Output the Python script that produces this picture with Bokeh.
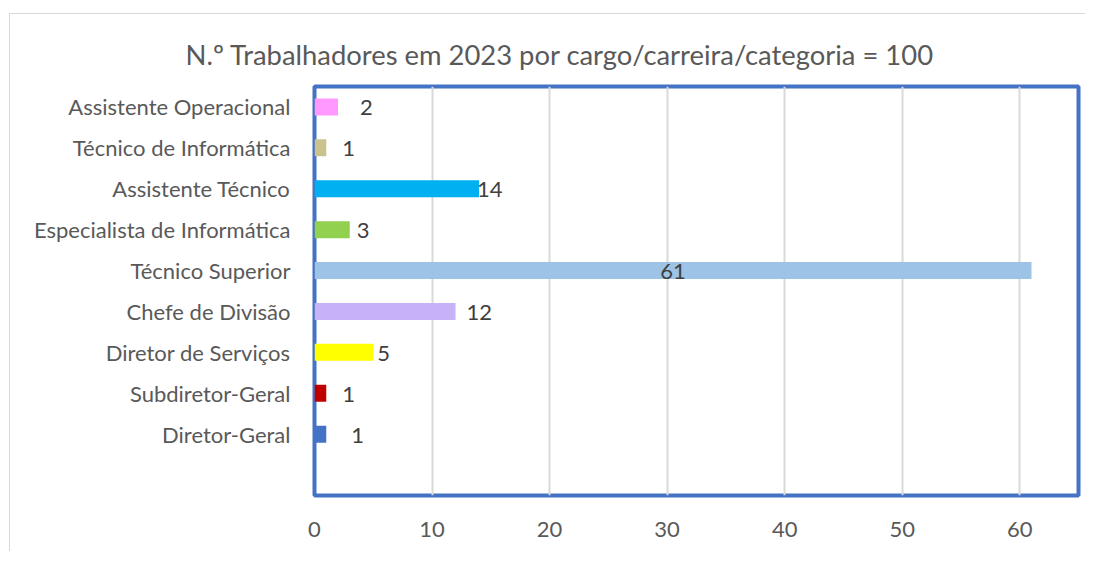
from bokeh.plotting import figure
from bokeh.models import Range1d, FixedTicker, ColumnDataSource
from bokeh.embed import file_html
from bokeh.resources import INLINE

# ---- data ----
categories = ["Diretor-Geral", "Subdiretor-Geral", "Diretor de Serviços", "Chefe de Divisão",
              "Técnico Superior", "Especialista de Informática", "Assistente Técnico",
              "Técnico de Informática", "Assistente Operacional"]
counts = [1, 1, 5, 12, 61, 3, 14, 1, 2]
colors = ["#4472C4", "#C00000", "#FFFF00", "#C6B3F7", "#9DC3E6", "#92D050", "#00B0F0",
          "#C9C38D", "#FF99FF"]
x_ticks = [0, 10, 20, 30, 40, 50, 60]
title_text = "N.º Trabalhadores em 2023 por cargo/carreira/categoria = 100"

# ---- label styling (pixel offsets / anchors, not data) ----
label_dx = [25, 16, 4, 11, 0, 7, -2, 16, 22]
label_anchor = [1, 1, 1, 1, 0.5, 1, 1, 1, 1]
label_align = ["left", "left", "left", "left", "center", "left", "left", "left", "left"]

FONT = "Lato"
GREY = "#595959"

ypos = list(range(len(categories)))
src = ColumnDataSource(dict(
    y=ypos, count=counts, color=colors,
    lx=[c * a for c, a in zip(counts, label_anchor)],
    dx=label_dx, align=label_align, label=[str(c) for c in counts],
))

p = figure(width=1076, height=538, output_backend="svg", toolbar_location=None,
           x_range=Range1d(0, 65), y_range=Range1d(-1.5, len(categories) - 0.5),
           min_border_left=304, min_border_right=8, min_border_top=72, min_border_bottom=57)
p.margin = (13, 0, 0, 9)
p.styles = {"border-top": "1px solid #D9D9D9", "border-left": "1px solid #D9D9D9"}

p.hbar(y="y", left=0, right="count", height=0.415, fill_color="color", line_color=None, source=src)
p.text(x="lx", y="y", text="label", x_offset="dx", y_offset=1, text_align={"field": "align"},
       text_baseline="middle", text_font={"value": FONT}, text_font_size="22px",
       text_color="#404040", source=src)

p.title.text = title_text
p.title.align = "left"
p.title.offset = -129
p.title.standoff = 32
p.title.text_font = FONT
p.title.text_font_size = "27.4px"
p.title.text_font_style = "normal"
p.title.text_color = GREY

p.outline_line_color = "#4472C4"
p.outline_line_width = 4

p.xaxis.ticker = FixedTicker(ticks=x_ticks)
p.yaxis.ticker = FixedTicker(ticks=ypos)
p.yaxis.major_label_overrides = {i: c for i, c in zip(ypos, categories)}
for ax in (p.xaxis[0], p.yaxis[0]):
    ax.axis_line_color = None
    ax.major_tick_line_color = None
    ax.minor_tick_line_color = None
    ax.major_label_text_font = FONT
    ax.major_label_text_font_size = "22px"
    ax.major_label_text_color = GREY
p.xaxis.major_label_standoff = 20
p.yaxis.major_label_standoff = 18

p.xgrid.ticker = FixedTicker(ticks=x_ticks[1:])
p.xgrid.grid_line_color = "#D9D9D9"
p.xgrid.grid_line_width = 2
p.ygrid.visible = False

open("out.html", "w").write(file_html(p, INLINE))
